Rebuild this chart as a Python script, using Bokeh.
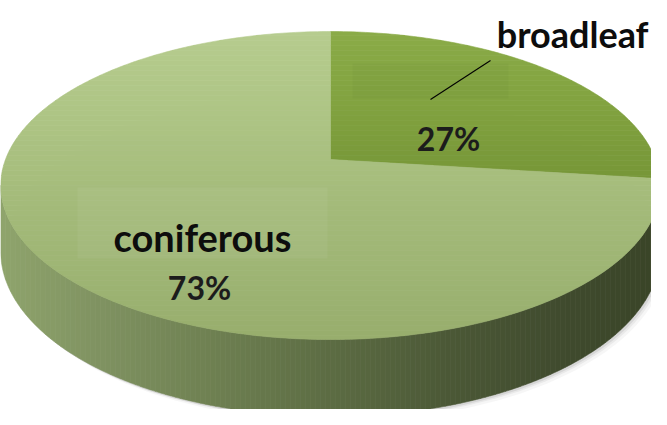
import numpy as np
from bokeh.plotting import figure
from bokeh.models import Range1d
from bokeh.core.properties import value
from bokeh.embed import file_html
from bokeh.resources import INLINE

# ---- data ----
categories = ["broadleaf", "coniferous"]
shares = [27, 73]

# ---- styling / geometry ----
W, H = 651, 409
CX, CY, A, B, K, D0 = 330.0, 159.0, 325.0, 149.6, 0.169, 64.0

top_stops = {
    "broadleaf": [(30, "#8aab47"), (100, "#82a340"), (180, "#769637")],
    "coniferous": [(30, "#b6cc8e"), (120, "#adc484"), (200, "#a4bb7a"),
                   (280, "#9db473"), (345, "#97ad6c")],
}
side_stops = [(0, "#8fa46c"), (100, "#7f9261"), (200, "#708253"),
              (330, "#5c6c43"), (450, "#4b5836"), (560, "#404b2e"), (660, "#394427")]

name_pos = {"coniferous": (202, 236), "broadleaf": (648, 33)}
pct_pos = {"coniferous": (199, 287), "broadleaf": (448, 138)}


def hex2rgb(h):
    h = h.lstrip("#")
    return np.array([int(h[i:i + 2], 16) for i in (0, 2, 4)], dtype=float)


def lerp_color(stops, t):
    pos = [s[0] for s in stops]
    cols = [hex2rgb(s[1]) for s in stops]
    if t <= pos[0]:
        c = cols[0]
    elif t >= pos[-1]:
        c = cols[-1]
    else:
        for i in range(len(pos) - 1):
            if pos[i] <= t <= pos[i + 1]:
                f = (t - pos[i]) / (pos[i + 1] - pos[i])
                c = cols[i] + f * (cols[i + 1] - cols[i])
                break
    return "#%02x%02x%02x" % tuple(int(round(v)) for v in c)


def proj(theta, depth=0.0):
    u = np.sin(theta)
    v = np.cos(theta)
    s = 1 + K * v
    return CX + A * u / s, CY + (-B * v + depth) / s


def clip(pts, c, lo, hi):
    def half(pts, keep, val):
        out = []
        n = len(pts)
        for i in range(n):
            cur, prev = pts[i], pts[i - 1]
            ci, pi = keep(cur), keep(prev)
            if ci != pi:
                t = (val - prev[c]) / (cur[c] - prev[c])
                out.append((prev[0] + t * (cur[0] - prev[0]), prev[1] + t * (cur[1] - prev[1])))
            if ci:
                out.append(cur)
        return out
    pts = half(pts, lambda q: q[c] >= lo, lo)
    if len(pts) > 2:
        pts = half(pts, lambda q: q[c] <= hi, hi)
    return pts


def banded(pts, c, lo, hi, step, colorfn):
    xs, ys, cols = [], [], []
    b = lo
    while b < hi:
        cp = clip(pts, c, b, b + step)
        if len(cp) > 2:
            xs.append([q[0] for q in cp])
            ys.append([q[1] for q in cp])
            cols.append(colorfn(b + step / 2))
        b += step
    return xs, ys, cols


p = figure(width=W, height=H, output_backend="svg", toolbar_location=None,
           x_range=Range1d(0, W), y_range=Range1d(H, 0),
           x_axis_location=None, y_axis_location=None, min_border=0)
p.grid.visible = False
p.outline_line_color = None
p.background_fill_color = "white"
p.border_fill_color = "white"

# soft shadow
th_all = np.linspace(0, 2 * np.pi, 361)
bx, by = proj(th_all, D0)
for dx, dy, al in [(6, 5, 0.05), (4, 3, 0.08), (2, 2, 0.12)]:
    p.patch(bx + dx, by + dy, fill_color="#555555", fill_alpha=al, line_color=None)

# side wall (front)
t0 = np.arccos(-K)
th = np.linspace(t0, 2 * np.pi - t0, 300)
tx, ty = proj(th)
sx, sy = proj(th[::-1], D0)
side_pts = list(zip(np.r_[tx, sx], np.r_[ty, sy]))
xs, ys, cols = banded(side_pts, 0, -5, 665, 5, lambda x: lerp_color(side_stops, x))
p.patches(xs, ys, fill_color=cols, line_color=cols, line_width=0.6)

# top face slices
total = float(sum(shares))
start = 0.0
for cat, val in zip(categories, shares):
    end = start + val / total * 2 * np.pi
    th = np.linspace(start, end, max(3, int(400 * val / total)))
    ax, ay = proj(th)
    pts = [(CX, CY)] + list(zip(ax, ay))
    stops = top_stops[cat]
    xs, ys, cols = banded(pts, 1, 25, 345, 5, lambda y, s=stops: lerp_color(s, y))
    p.patches(xs, ys, fill_color=cols, line_color=cols, line_width=0.6)
    start = end

# faint label backdrops
p.quad(left=[77], right=[327], top=[187], bottom=[258], fill_color="white",
       fill_alpha=0.05, line_color=None)
p.quad(left=[352], right=[508], top=[63], bottom=[98], fill_color="black",
       fill_alpha=0.025, line_color=None)

# leader line
p.line([430, 490], [99, 60], line_color="black", line_width=1.1)

# labels
p.text(x=[name_pos["coniferous"][0]], y=[name_pos["coniferous"][1]], text=["coniferous"],
       text_font=value("Lato"), text_font_style="bold", text_font_size="38px",
       text_align="center", text_baseline="alphabetic", text_color="#0d0d0d")
p.text(x=[name_pos["broadleaf"][0]], y=[name_pos["broadleaf"][1]], text=["broadleaf"],
       text_font=value("Lato"), text_font_style="bold", text_font_size="36px",
       text_align="right", text_baseline="alphabetic", text_color="#0d0d0d")
pct_x = [pct_pos[c][0] for c in categories]
pct_y = [pct_pos[c][1] for c in categories]
pct_t = ["%d%%" % round(v / total * 100) for v in shares]
p.text(x=pct_x, y=pct_y, text=pct_t, text_font=value("Lato"), text_font_style="bold",
       text_font_size="32px", text_align="center", text_baseline="alphabetic",
       text_color="#1c1c1c")

open("out.html", "w").write(file_html(p, INLINE))
